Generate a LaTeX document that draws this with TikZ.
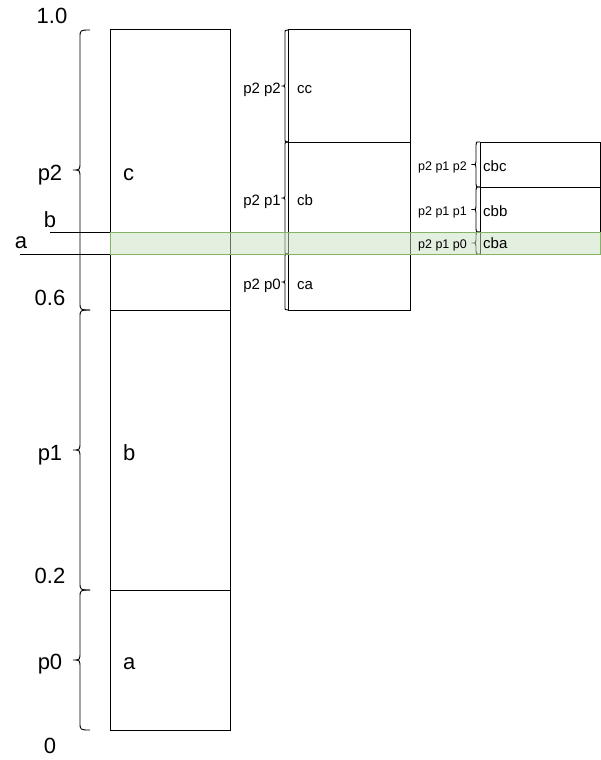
\documentclass[tikz,border=0pt]{standalone}
\usepackage{fontspec}
\setmainfont{Liberation Sans}
\begin{document}
\begin{tikzpicture}[x=1pt,y=-1pt,
  box/.style={draw=black, line width=1pt, inner sep=0pt, outer sep=0pt, anchor=north west},
  bracestyle/.style={draw=black, line width=0.9pt},
  big/.style={font=\fontsize{22}{22}\selectfont, inner sep=0pt},
  mid/.style={font=\fontsize{15}{15}\selectfont, inner sep=0pt},
  small/.style={font=\fontsize{12.5}{12.5}\selectfont, inner sep=0pt},
  band/.style={draw={rgb,255:red,130;green,179;blue,102}, line width=1pt, fill={rgb,255:red,200;green,224;blue,192}, fill opacity=0.5, inner sep=0pt, outer sep=0pt, anchor=north west},
  guide/.style={draw=black, line width=1pt}]
\useasboundingbox (0,0) rectangle (601,760);
\newcommand{\mybrace}[6]{%
  \draw[bracestyle] (#3,#4) .. controls (#2,#4) .. (#2,{#4+#6})
    -- (#2,{(#4+#5)/2-#6}) .. controls (#2,{(#4+#5)/2}) .. (#1,{(#4+#5)/2})
    .. controls (#2,{(#4+#5)/2}) .. (#2,{(#4+#5)/2+#6})
    -- (#2,{#5-#6}) .. controls (#2,#5) .. (#3,#5);}
% main column
\node[box, minimum width=120pt, minimum height=280pt] (bc) at (110,30) {};
\node[box, minimum width=120pt, minimum height=280pt] (bb) at (110,310) {};
\node[box, minimum width=120pt, minimum height=140pt] (ba) at (110,590) {};
% middle column
\node[box, minimum width=122pt, minimum height=112pt] (bcc) at (288,30) {};
\node[box, minimum width=122pt, minimum height=112pt] (bcb) at (288,142) {};
\node[box, minimum width=122pt, minimum height=56pt] (bca) at (288,254) {};
% right column
\node[box, minimum width=120pt, minimum height=45pt] (bcbc) at (480,142) {};
\node[box, minimum width=120pt, minimum height=45pt] (bcbb) at (480,187) {};
\node[box, minimum width=120pt, minimum height=22pt] (bcba) at (480,232) {};
% braces
\mybrace{73}{80}{90}{30}{310}{8}
\mybrace{73}{80}{90}{310}{590}{8}
\mybrace{73}{80}{90}{590}{730}{8}
\mybrace{281.5}{285}{288}{30}{142}{4}
\mybrace{281.5}{285}{288}{142}{254}{4}
\mybrace{281.5}{285}{288}{254}{310}{4}
\mybrace{471.5}{476}{480}{142}{187}{3}
\mybrace{471.5}{476}{480}{187}{232}{3}
\mybrace{471.5}{476}{480}{232}{254}{3}
% guide lines
\coordinate (bstart) at (50,232);
\coordinate (bend) at (110,232);
\coordinate (astart) at (20,254);
\coordinate (aend) at (110,254);
\draw[guide] (bstart) -- (bend);
\draw[guide] (astart) -- (aend);
% green band
\node[band, minimum width=490pt, minimum height=22pt] (greenband) at (110,232) {};
% left scale labels
\node[big, anchor=base] (l10) at (52,24) {1.0};
\node[big, anchor=base] (lp2) at (50,180) {p2};
\node[big, anchor=base] (lb) at (50,227) {b};
\node[big, anchor=base] (la) at (21,248) {a};
\node[big, anchor=base] (l06) at (50,305) {0.6};
\node[big, anchor=base] (lp1) at (50,460) {p1};
\node[big, anchor=base] (l02) at (50,583) {0.2};
\node[big, anchor=base] (lp0) at (50,669) {p0};
\node[big, anchor=base] (l0) at (50,753) {0};
% box labels
\node[big, anchor=base west] (tc) at (123,180) {c};
\node[big, anchor=base west] (tb) at (123,460) {b};
\node[big, anchor=base west] (ta) at (123,669) {a};
% middle labels
\node[mid, anchor=base east] (lp2p2) at (281,93) {p2 p2};
\node[mid, anchor=base east] (lp2p1) at (281,205) {p2 p1};
\node[mid, anchor=base east] (lp2p0) at (281,289) {p2 p0};
\node[mid, anchor=base west] (tcc) at (297,93) {cc};
\node[mid, anchor=base west] (tcb) at (297,205) {cb};
\node[mid, anchor=base west] (tca) at (297,289) {ca};
% right labels
\node[small, anchor=base east] (lp2p1p2) at (467,170) {p2 p1 p2};
\node[small, anchor=base east] (lp2p1p1) at (467,215) {p2 p1 p1};
\node[small, anchor=base east] (lp2p1p0) at (467,248) {p2 p1 p0};
\node[mid, anchor=base west] (tcbc) at (483,171) {cbc};
\node[mid, anchor=base west] (tcbb) at (483,216) {cbb};
\node[mid, anchor=base west] (tcba) at (483,248) {cba};
\end{tikzpicture}
\end{document}
